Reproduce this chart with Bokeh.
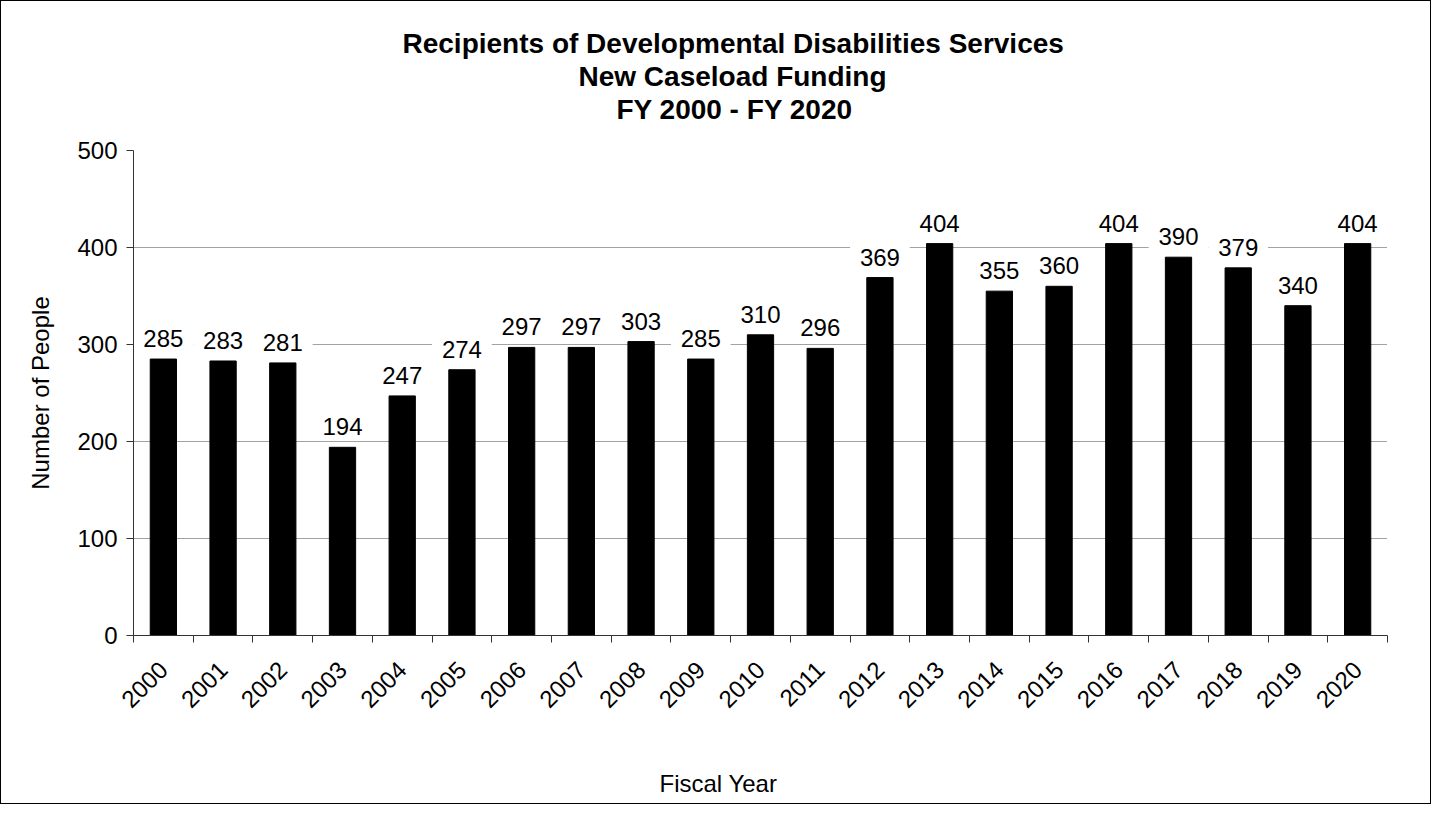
import numpy as np
from bokeh.plotting import figure
from bokeh.models import (ColumnDataSource, LabelSet, FixedTicker, Range1d,
                          Title, LinearAxis)
from bokeh.core.properties import value
from bokeh.embed import file_html
from bokeh.resources import INLINE

# ---- data ----
years = [str(y) for y in range(2000, 2021)]
people = [285, 283, 281, 194, 247, 274, 297, 297, 303, 285, 310,
          296, 369, 404, 355, 360, 404, 390, 379, 340, 404]
y_ticks = [0, 100, 200, 300, 400, 500]
title_lines = ["Recipients of Developmental Disabilities Services",
               "New Caseload Funding",
               "FY 2000 - FY 2020"]
x_title = "Fiscal Year"
y_title = "Number of People"

FONT = "Liberation Sans"
n = len(years)
idx = np.arange(n)
vals = np.array(people, dtype=float)

src = ColumnDataSource(dict(
    x=idx + 0.5, left=idx, right=idx + 1, top=vals,
    label=[str(v) for v in people],
    bb=vals + 9, bt=vals + 38,
))

p = figure(width=1431, height=804, x_range=Range1d(0, n), y_range=Range1d(0, 500),
           output_backend="svg", toolbar_location=None,
           min_border_left=132, min_border_top=149, min_border_right=45,
           min_border_bottom=170)
p.outline_line_color = None
p.background_fill_color = "white"
p.border_fill_color = "white"
p.styles = {"border": "1px solid black"}

# label backgrounds (white boxes that interrupt the gridlines)
p.quad(left="left", right="right", bottom="bb", top="bt", source=src,
       fill_color="white", line_color=None)
p.vbar(x="x", top="top", bottom=0, width=0.44, source=src,
       fill_color="black", line_color="black")

labels = LabelSet(x="x", y="top", text="label", source=src, y_offset=12,
                  text_align="center", text_baseline="alphabetic",
                  text_font_size="24px", text_font=value(FONT), text_color="black")
p.add_layout(labels)

# x axis
p.xaxis.ticker = FixedTicker(ticks=list(idx + 0.5), minor_ticks=list(range(n + 1)))
p.xaxis.major_label_overrides = {float(i + 0.5): years[i] for i in idx}
p.xaxis.major_label_orientation = np.pi / 4
p.xaxis.major_tick_out = 0
p.xaxis.major_tick_in = 0
p.xaxis.minor_tick_out = 7
p.xaxis.minor_tick_in = 0
p.xaxis.minor_tick_line_color = "#333333"
p.xaxis.axis_line_color = "#333333"
p.xaxis.major_label_text_font = FONT
p.xaxis.major_label_text_font_size = "24px"
p.xaxis.major_label_text_color = "black"
p.xaxis.major_label_standoff = 23

# y axis
p.yaxis.ticker = FixedTicker(ticks=y_ticks)
p.yaxis.major_tick_out = 7
p.yaxis.major_tick_in = 0
p.yaxis.minor_tick_line_color = None
p.yaxis.major_tick_line_color = "#333333"
p.yaxis.axis_line_color = "#333333"
p.yaxis.major_label_text_font = FONT
p.yaxis.major_label_text_font_size = "24px"
p.yaxis.major_label_text_color = "black"
p.yaxis.major_label_standoff = 9
p.yaxis.axis_label = y_title
p.yaxis.axis_label_text_font = FONT
p.yaxis.axis_label_text_font_size = "24px"
p.yaxis.axis_label_text_font_style = "normal"
p.yaxis.axis_label_text_color = "black"
p.yaxis.axis_label_standoff = 20

p.xgrid.visible = False
p.ygrid.grid_line_color = "#444444"
p.ygrid.grid_line_dash = "1 1"
p.ygrid.grid_line_width = 1


def spacer(size):
    # a blank axis whose single white tick at the right edge only reserves room
    return LinearAxis(ticker=FixedTicker(ticks=[float(n)]), major_tick_out=size,
                      major_tick_in=0, minor_tick_out=0, minor_tick_in=0,
                      axis_line_color=None, major_tick_line_color="white",
                      minor_tick_line_color=None, major_label_text_color=None,
                      major_label_standoff=0)


# title block: spacer then lines from bottom to top
p.add_layout(spacer(26), "above")
title_offsets = [269, 445, 483]
for line, off in reversed(list(zip(title_lines, title_offsets))):
    p.add_layout(Title(text=line, align="left", offset=off, standoff=0,
                       text_font=FONT, text_font_size="28px",
                       text_font_style="bold", text_color="black"), "above")

# x-axis title below
p.add_layout(spacer(49), "below")
p.add_layout(Title(text=x_title, align="left", offset=526, standoff=0,
                   text_font=FONT, text_font_size="24px",
                   text_font_style="normal", text_color="black"), "below")

open("out.html", "w").write(file_html(p, INLINE))
